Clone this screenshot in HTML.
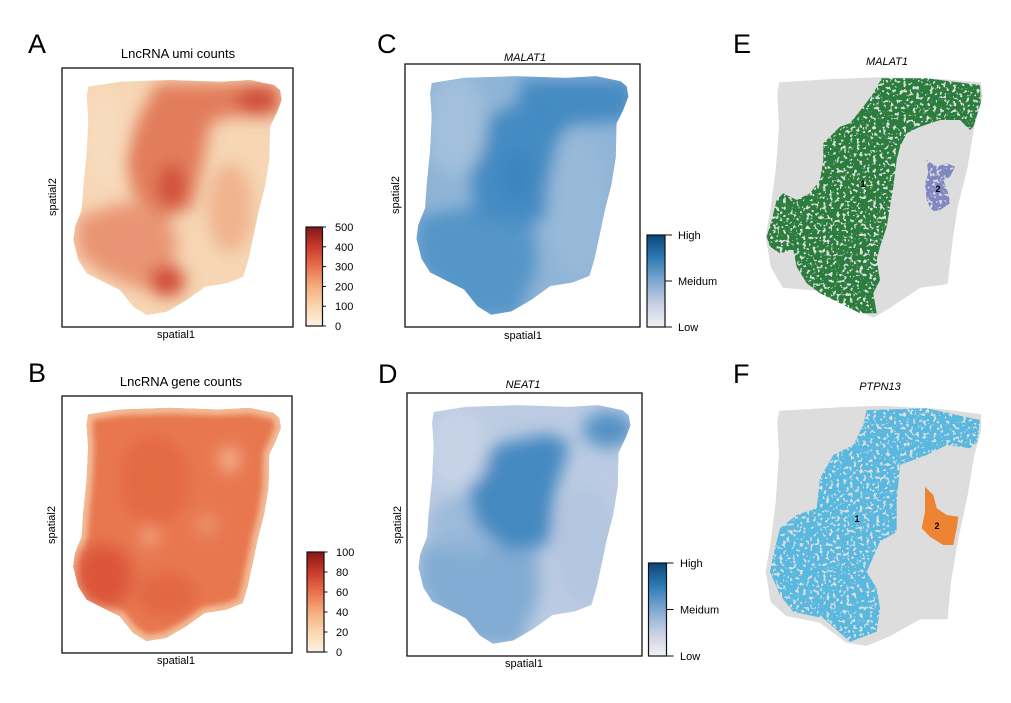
<!DOCTYPE html>
<html><head><meta charset="utf-8"><style>
html,body{margin:0;padding:0;background:#fff;}
svg{display:block;font-family:"Liberation Sans",Arial,sans-serif;}
</style></head><body>
<svg width="1011" height="703" viewBox="0 0 1011 703" xmlns="http://www.w3.org/2000/svg">
<defs>
<path id="tis" d="M26.3,18.7 L58,13.7 L108,12 L158,13.7 L188,12 L212,17 L218,22 L219.7,32 L214.7,45 L208,58.7 L207.3,92 L203,118.7 L196.3,145 L191.3,168.7 L186.3,192 L181.3,208.7 L164.7,215.3 L143,218.7 L124.7,232 L104.7,243.7 L84.7,247 L71.3,238.7 L58,222 L41.3,213.7 L24.7,205.3 L16.3,192 L11.3,172 L13,158.7 L19.7,142 L21.3,118.7 L24.7,85.3 L26.3,52 L24.7,28.7 Z"/>
<clipPath id="tclip"><use href="#tis"/></clipPath>
<filter id="bl" x="-30%" y="-30%" width="160%" height="160%"><feGaussianBlur stdDeviation="8"/></filter>
<filter id="bl2" x="-20%" y="-20%" width="140%" height="140%"><feGaussianBlur stdDeviation="3"/></filter>
<filter id="speck" x="0" y="0" width="100%" height="100%">
<feTurbulence type="fractalNoise" baseFrequency="0.3" numOctaves="2" seed="4" result="n"/>
<feColorMatrix in="n" type="matrix" values="0 0 0 0 0  0 0 0 0 0  0 0 0 0 0  -16 0 0 0 10.2" result="m"/>
<feComposite in="SourceGraphic" in2="m" operator="in"/>
</filter>
<linearGradient id="gOr" x1="0" y1="1" x2="0" y2="0">
<stop offset="0" stop-color="#fdf1e3"/><stop offset="0.2" stop-color="#fad7ae"/><stop offset="0.4" stop-color="#f5ad7d"/><stop offset="0.6" stop-color="#e8714f"/><stop offset="0.8" stop-color="#c93a2b"/><stop offset="1" stop-color="#851717"/>
</linearGradient>
<linearGradient id="gBl" x1="0" y1="1" x2="0" y2="0">
<stop offset="0" stop-color="#f3f1f7"/><stop offset="0.25" stop-color="#c9cfe3"/><stop offset="0.5" stop-color="#7ea8d0"/><stop offset="0.75" stop-color="#2e7bb5"/><stop offset="1" stop-color="#0b4577"/>
</linearGradient>
</defs>
<rect width="1011" height="703" fill="#fff"/>

<!-- ===== Panel A ===== -->
<text x="28" y="53" font-size="27">A</text>
<text x="178" y="58" font-size="13" text-anchor="middle">LncRNA umi counts</text>
<g transform="translate(62,68)">
  <use href="#tis" fill="#f6d6b4"/>
  <g clip-path="url(#tclip)">
   <g filter="url(#bl)">
    <polygon points="15,150 60,135 100,140 115,170 110,210 80,222 40,205 15,185" fill="#e99574"/>
    <polygon points="95,15 218,15 218,48 170,48 148,55 142,90 130,140 104,150 72,130 64,92 74,56" fill="#e27d5c"/>
    <ellipse cx="168" cy="140" rx="22" ry="45" fill="#efab86" opacity="0.8"/>
    <ellipse cx="110" cy="118" rx="14" ry="22" fill="#d04f38"/>
    <ellipse cx="196" cy="32" rx="22" ry="15" fill="#d0503a"/>
    <ellipse cx="105" cy="213" rx="18" ry="16" fill="#d24e38"/>
    <ellipse cx="42" cy="70" rx="18" ry="52" fill="#f8dcbd"/>
   </g>
  </g>
</g>
<rect x="62" y="68" width="231" height="259" fill="none" stroke="#111" stroke-width="1.3"/>
<text x="176" y="338" font-size="11" text-anchor="middle">spatial1</text>
<text transform="translate(56,197) rotate(-90)" font-size="11" text-anchor="middle">spatial2</text>
<rect x="306" y="227" width="16.5" height="99" fill="url(#gOr)" stroke="#111" stroke-width="1.2"/>
<g stroke="#111" stroke-width="1">
<line x1="322.5" y1="227" x2="326" y2="227"/><line x1="322.5" y1="246.8" x2="326" y2="246.8"/><line x1="322.5" y1="266.6" x2="326" y2="266.6"/><line x1="322.5" y1="286.4" x2="326" y2="286.4"/><line x1="322.5" y1="306.2" x2="326" y2="306.2"/><line x1="322.5" y1="326" x2="326" y2="326"/>
</g>
<g font-size="11"><text x="335" y="231">500</text><text x="335" y="251">400</text><text x="335" y="270.5">300</text><text x="335" y="290.5">200</text><text x="335" y="310">100</text><text x="335" y="330">0</text></g>

<!-- ===== Panel B ===== -->
<text x="28" y="382" font-size="27">B</text>
<text x="181" y="386" font-size="13" text-anchor="middle">LncRNA gene counts</text>
<g transform="translate(62,396) scale(0.996,0.992)">
  <use href="#tis" fill="#e8774f"/>
  <g clip-path="url(#tclip)">
   <use href="#tis" fill="none" stroke="#f3bb95" stroke-width="12" filter="url(#bl2)"/>
   <g filter="url(#bl)">
    <ellipse cx="93" cy="85" rx="35" ry="45" fill="#e2653f" opacity="0.7"/>
    <ellipse cx="42" cy="182" rx="28" ry="32" fill="#db553a"/>
    <ellipse cx="105" cy="200" rx="30" ry="22" fill="#e1603f" opacity="0.7"/>
    <ellipse cx="168" cy="64" rx="10" ry="13" fill="#f3b692"/>
    <ellipse cx="88" cy="142" rx="9" ry="9" fill="#f1ac88"/>
    <ellipse cx="145" cy="130" rx="10" ry="10" fill="#eea07e" opacity="0.8"/>
   </g>
  </g>
</g>
<rect x="62" y="396" width="230" height="257" fill="none" stroke="#111" stroke-width="1.3"/>
<text x="176" y="664" font-size="11" text-anchor="middle">spatial1</text>
<text transform="translate(55,525) rotate(-90)" font-size="11" text-anchor="middle">spatial2</text>
<rect x="307" y="552" width="17" height="100" fill="url(#gOr)" stroke="#111" stroke-width="1.2"/>
<g stroke="#111" stroke-width="1">
<line x1="324" y1="552" x2="327.5" y2="552"/><line x1="324" y1="572" x2="327.5" y2="572"/><line x1="324" y1="592" x2="327.5" y2="592"/><line x1="324" y1="612" x2="327.5" y2="612"/><line x1="324" y1="632" x2="327.5" y2="632"/><line x1="324" y1="652" x2="327.5" y2="652"/>
</g>
<g font-size="11"><text x="336" y="556">100</text><text x="336" y="576">80</text><text x="336" y="596">60</text><text x="336" y="616">40</text><text x="336" y="636">20</text><text x="336" y="656">0</text></g>

<!-- ===== Panel C ===== -->
<text x="377" y="53" font-size="27">C</text>
<text x="525" y="61" font-size="11" font-style="italic" text-anchor="middle">MALAT1</text>
<g transform="translate(405,64) scale(1.017,1.015)">
  <use href="#tis" fill="#8fb4d6"/>
  <g clip-path="url(#tclip)">
   <g filter="url(#bl)">
    <polygon points="12,150 70,140 125,150 130,200 110,250 70,250 30,220 10,190" fill="#5595c8"/>
    <polygon points="115,15 225,15 222,56 160,60 148,80 145,150 110,158 70,150 62,95 75,55 110,40" fill="#458bc3"/>
    <ellipse cx="50" cy="60" rx="30" ry="50" fill="#a2c0dc"/>
    <ellipse cx="170" cy="140" rx="30" ry="70" fill="#98bad9"/>
    <ellipse cx="110" cy="110" rx="14" ry="24" fill="#3a84bf"/>
   </g>
  </g>
</g>
<rect x="405" y="64" width="235" height="263" fill="none" stroke="#111" stroke-width="1.3"/>
<text x="523" y="339" font-size="11" text-anchor="middle">spatial1</text>
<text transform="translate(399,195) rotate(-90)" font-size="11" text-anchor="middle">spatial2</text>
<rect x="647" y="235" width="18" height="92" fill="url(#gBl)" stroke="#111" stroke-width="1.2"/>
<g stroke="#111" stroke-width="1">
<line x1="665" y1="235" x2="672" y2="235"/><line x1="665" y1="281" x2="672" y2="281"/><line x1="665" y1="327" x2="672" y2="327"/>
</g>
<g font-size="11"><text x="678" y="239">High</text><text x="678" y="285">Meidum</text><text x="678" y="331">Low</text></g>

<!-- ===== Panel D ===== -->
<text x="378" y="383" font-size="27">D</text>
<text x="523" y="388" font-size="11" font-style="italic" text-anchor="middle">NEAT1</text>
<g transform="translate(407,393) scale(1.017,1.015)">
  <use href="#tis" fill="#bccbe2"/>
  <g clip-path="url(#tclip)">
   <g filter="url(#bl)">
    <polygon points="13,150 70,140 128,150 130,200 110,250 70,250 30,220 10,190" fill="#82acd3"/>
    <ellipse cx="60" cy="130" rx="40" ry="30" fill="#95b7d9" opacity="0.8"/>
    <polygon points="63,60 100,48 140,40 160,50 145,100 140,150 100,155 68,130 60,95" fill="#4489c1"/>
    <ellipse cx="198" cy="36" rx="25" ry="18" fill="#5592c5"/>
    <ellipse cx="50" cy="55" rx="30" ry="40" fill="#c6d3e7"/>
    <ellipse cx="175" cy="150" rx="30" ry="60" fill="#b3c6e0"/>
   </g>
  </g>
</g>
<rect x="407" y="393" width="235" height="263" fill="none" stroke="#111" stroke-width="1.3"/>
<text x="524" y="667" font-size="11" text-anchor="middle">spatial1</text>
<text transform="translate(401,525) rotate(-90)" font-size="11" text-anchor="middle">spatial2</text>
<rect x="648.5" y="563" width="18" height="93" fill="url(#gBl)" stroke="#111" stroke-width="1.2"/>
<g stroke="#111" stroke-width="1">
<line x1="666.5" y1="563" x2="673.5" y2="563"/><line x1="666.5" y1="609.5" x2="673.5" y2="609.5"/><line x1="666.5" y1="656" x2="673.5" y2="656"/>
</g>
<g font-size="11"><text x="680" y="567">High</text><text x="680" y="613.5">Meidum</text><text x="680" y="660">Low</text></g>

<!-- ===== Panel E ===== -->
<text x="733" y="53" font-size="27">E</text>
<text x="887" y="65" font-size="11" font-style="italic" text-anchor="middle">MALAT1</text>
<polygon fill="#dddddd" stroke="#dddddd" stroke-width="2" stroke-linejoin="round" points="780,83.3 833.3,80 880,78.3 940,80 980,83.3 981.7,96.7 973.3,126.7 966.7,166.7 956.7,206.7 951.7,240 946.7,283.3 920,286.7 890,306.7 873.3,316.7 853.3,306.7 820,290 783.3,286.7 771.7,266.7 766.7,236.7 771.7,206.7 776.7,170 780,126.7 778.3,93.3"/>
<g filter="url(#speck)">
<polygon fill="#2c7d3c" points="881.7,78.3 926.7,78.3 953.3,81.7 980,85 980.7,103.3 973.3,126.7 970,130 960,120 940,120 920,126.7 906.7,133.3 900,146.7 896.7,160 893.3,186.7 890,206.7 886.7,226.7 880,246.7 876.7,260 880,280 873.3,293.3 876.7,313.3 860,313.3 840,303.3 820,293.3 806.7,283.3 796.7,266.7 793.3,250 780,253.3 770,246.7 766.7,236.7 771.7,220 776.7,200 783.3,193.3 796.7,200 810,193.3 820,180 823.3,160 823.3,143.3 840,126.7 850,123.3 863.3,106.7 873.3,93.3"/>
<polygon fill="#8088c2" points="926.7,160 936.7,166.7 946.7,163.3 955,166.7 950,176.7 943.3,180 948.3,193.3 950,203.3 940,210 931.7,211.7 926.7,200 925,183.3 928.3,173.3"/>
</g>
<text x="863" y="187" font-size="9" font-weight="bold" text-anchor="middle">1</text>
<text x="938" y="192" font-size="9" font-weight="bold" text-anchor="middle">2</text>

<!-- ===== Panel F ===== -->
<text x="733" y="383" font-size="27">F</text>
<text x="880" y="390" font-size="11" font-style="italic" text-anchor="middle">PTPN13</text>
<polygon fill="#dddddd" stroke="#dddddd" stroke-width="2" stroke-linejoin="round" points="780,411.7 840,408.3 880,406.7 940,410 980,415 980,431.7 973.3,455 966.7,495 956.7,541.7 950,581.7 946.7,618.3 920,618.3 890,635 866.7,645 846.7,641.7 820,621.7 786.7,615 771.7,601.7 766.7,571.7 771.7,541.7 776.7,501.7 780,455 778.3,421.7"/>
<g filter="url(#speck)">
<polygon fill="#58b8df" points="866.7,410 926.7,408.3 980,420 977.3,441.7 970,448.3 946.7,445 926.7,455 900,465 896.7,501.7 896.7,531.7 880,541.7 866.7,571.7 876.7,588.3 880,608.3 876.7,631.7 850,641.7 823.3,618.3 793.3,611.7 780,595 770,571.7 773.3,555 780,528.3 796.7,515 816.7,508.3 820,478.3 833.3,455 853.3,445 863.3,425"/>
</g>
<polygon fill="#ee8432" points="925,486.7 933.3,495 936.7,508.3 946.7,515 958.3,516.7 956.7,528.3 953.3,545 943.3,545 930,536.7 921.7,528.3 925,511.7 925,498.3"/>
<text x="857" y="522" font-size="9" font-weight="bold" text-anchor="middle">1</text>
<text x="937" y="529" font-size="9" font-weight="bold" text-anchor="middle">2</text>
</svg>
</body></html>
